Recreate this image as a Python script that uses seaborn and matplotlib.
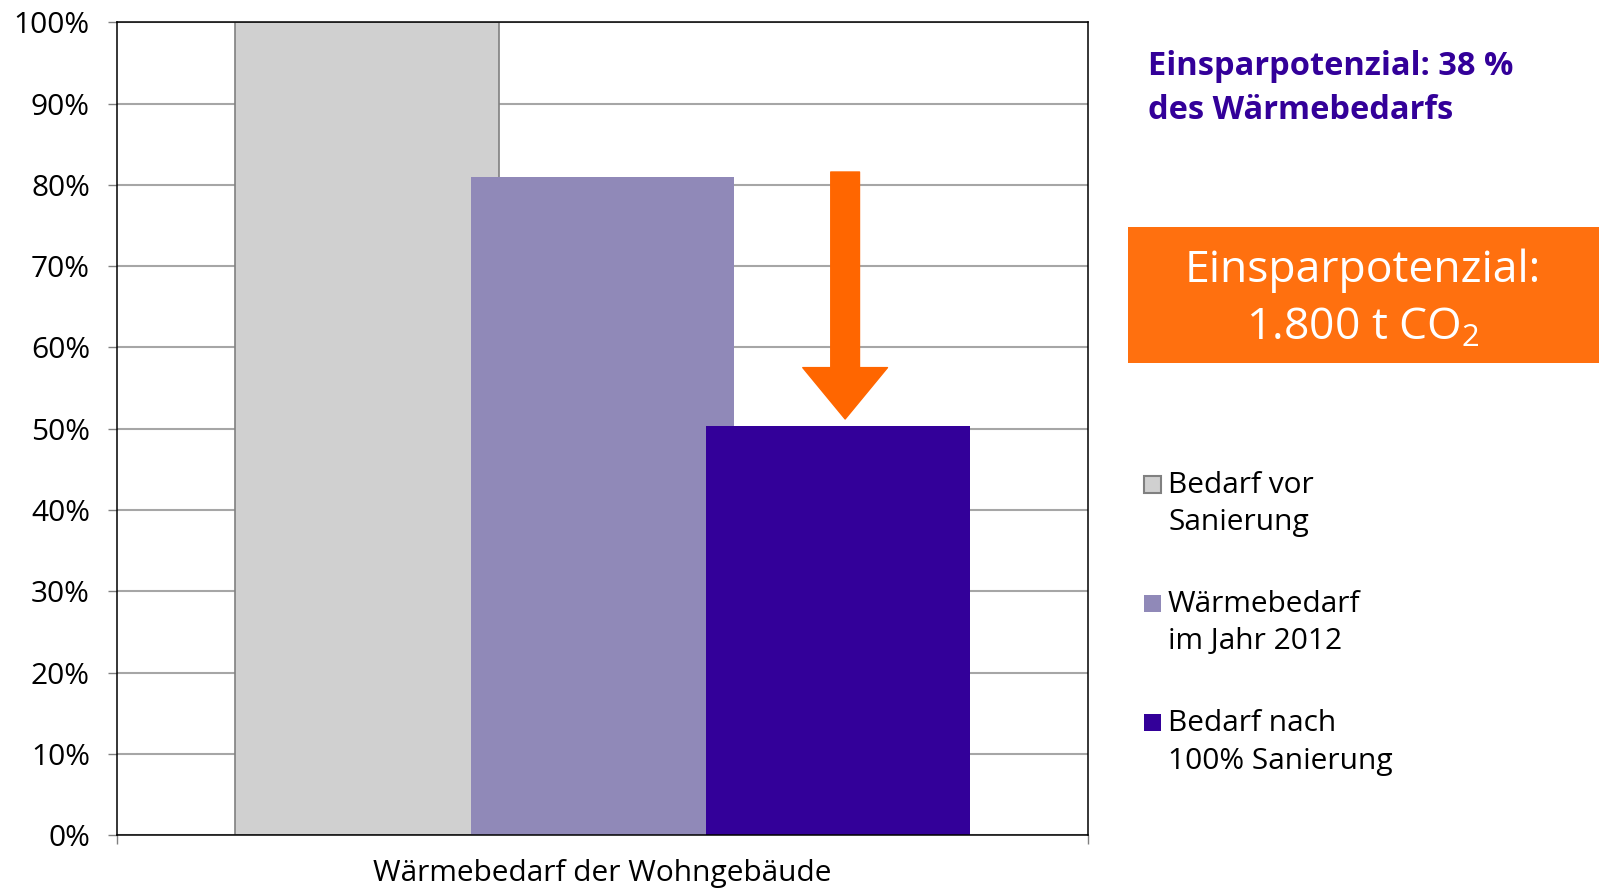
import pandas as pd
import matplotlib.pyplot as plt
from matplotlib.patches import Rectangle
import seaborn as sns

# Werte aus der Grafik (Anteil am Wärmebedarf vor Sanierung, in %)
serien = ["Bedarf vor Sanierung", "Wärmebedarf im Jahr 2012", "Bedarf nach 100% Sanierung"]
werte = [100.0, 81.0, 50.3]
farben = ["#D0D0D0", "#9089B8", "#330099"]
legenden_text = ["Bedarf vor\nSanierung", "Wärmebedarf\nim Jahr 2012", "Bedarf nach\n100% Sanierung"]
y_ticks = list(range(0, 101, 10))
kategorie = "Wärmebedarf der Wohngebäude"
titel_zeilen = ["Einsparpotenzial: 38 %", "des Wärmebedarfs"]
box_zeilen = ["Einsparpotenzial:", "1.800 t CO$_2$"]

df = pd.DataFrame({"serie": serien, "wert": werte})

sns.set_style("white")
plt.rcParams["font.family"] = ["Open Sans", "DejaVu Sans"]
plt.rcParams["mathtext.fontset"] = "custom"
plt.rcParams["mathtext.rm"] = "Open Sans"
plt.rcParams["mathtext.it"] = "Open Sans:italic"
plt.rcParams["mathtext.bf"] = "Open Sans:bold"
plt.rcParams["text.color"] = "black"
plt.rcParams["axes.labelcolor"] = "black"

W, H = 1607, 888
fig = plt.figure(figsize=(W / 100, H / 100), dpi=100)
ax = fig.add_axes([117 / W, 1 - 835 / H, (1088 - 117) / W, (835 - 22.5) / H])

sns.barplot(data=df, x="serie", y="wert", hue="serie", palette=farben,
            width=1.12, dodge=False, legend=False, saturation=1, ax=ax)
for i, p in enumerate(ax.patches):
    if i == 0:
        p.set_edgecolor("#808080")
        p.set_linewidth(1.2)
    else:
        p.set_edgecolor("none")

ax.set_xlim(-1.061, 3.061)
ax.set_ylim(0, 100)
ax.set_yticks(y_ticks, labels=[f"{t}%" for t in y_ticks])
ax.set_xticks([-1.061, 3.061], labels=["", ""])
ax.yaxis.grid(True, color="#A6A6A6", linewidth=1.5)
ax.set_axisbelow(True)
ax.tick_params(axis="both", direction="out", length=6.5, width=1, color="#808080",
               labelcolor="black", labelsize=21.5, pad=13, left=True, bottom=True)
for s in ax.spines.values():
    s.set_visible(True)
    s.set_color("black")
    s.set_linewidth(1.1)

ax.set_xlabel(kategorie, fontsize=21.5, color="black")
ax.set_ylabel("")
ax.xaxis.label.set_va("baseline")
ax.xaxis.set_label_coords(0.5, -0.056)

# Pfeil von 2012 auf Zielwert
ax.annotate("", xy=(2.03, werte[2] + 0.9), xytext=(2.03, werte[1] + 0.6),
            arrowprops=dict(arrowstyle="simple,head_length=37,head_width=61,tail_width=20.7",
                            mutation_scale=1, color="#FF6600", shrinkA=0, shrinkB=0))

# Titeltext rechts oben
for zeile, yb in zip(titel_zeilen, [75, 119.3]):
    fig.text(1148 / W, 1 - yb / H, zeile, color="#330099", fontsize=23.5,
             fontweight="bold", ha="left", va="baseline")

# orange Box
fig.patches.append(Rectangle((1127.7 / W, 1 - 363.3 / H), (1599 - 1127.7) / W,
                             (363.3 - 226.7) / H, transform=fig.transFigure,
                             facecolor="#FF700F", edgecolor="none"))
for zeile, yb in zip(box_zeilen, [281.7, 340]):
    fig.text(1363 / W, 1 - yb / H, zeile, color="white", fontsize=32,
             ha="center", va="baseline")

# Legende
for farbe, text, y0 in zip(farben, legenden_text, [476, 595, 714.3]):
    kante = "#808080" if farbe == farben[0] else "none"
    fig.patches.append(Rectangle((1144 / W, 1 - (y0 + 17) / H), 17 / W, 17 / H,
                                 transform=fig.transFigure, facecolor=farbe,
                                 edgecolor=kante, linewidth=1.5))
    for j, zeile in enumerate(text.split("\n")):
        fig.text(1168 / W, 1 - (y0 + 16.7 + 37.5 * j) / H, zeile, fontsize=21.5,
                 color="black", ha="left", va="baseline")

fig.savefig("out.png", dpi=100)
